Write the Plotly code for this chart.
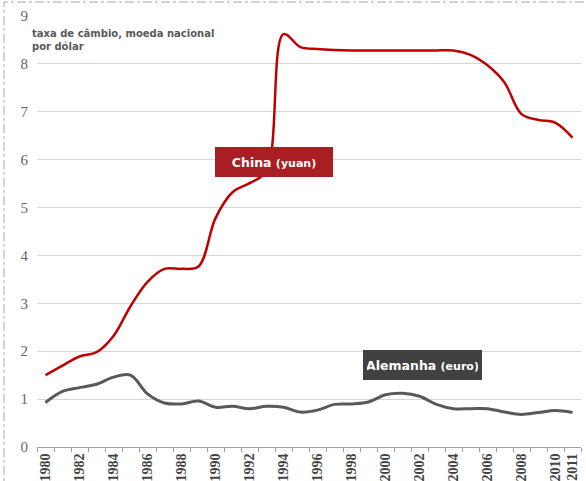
import plotly.graph_objects as go

years = list(range(1980, 2012))
china_yuan = [1.50, 1.70, 1.89, 1.98, 2.32, 2.94, 3.45, 3.72, 3.72, 3.77,
              4.78, 5.32, 5.51, 5.76, 8.62, 8.35, 8.31, 8.29, 8.28, 8.28,
              8.28, 8.28, 8.28, 8.28, 8.28, 8.19, 7.97, 7.61, 6.95, 6.83,
              6.77, 6.46]
germany_euro = [0.93, 1.16, 1.24, 1.31, 1.46, 1.50, 1.11, 0.92, 0.90, 0.96,
                0.83, 0.85, 0.80, 0.85, 0.83, 0.73, 0.77, 0.89, 0.90, 0.94,
                1.09, 1.12, 1.06, 0.89, 0.80, 0.80, 0.80, 0.73, 0.68, 0.72,
                0.76, 0.72]
x_tick_years = [1980, 1982, 1984, 1986, 1988, 1990, 1992, 1994, 1996, 1998,
                2000, 2002, 2004, 2006, 2008, 2010, 2011]
y_ticks = [0, 1, 2, 3, 4, 5, 6, 7, 8, 9]

SERIF = "Liberation Serif, Times New Roman, serif"
SANS = "DejaVu Sans, Verdana, sans-serif"

fig = go.Figure()
fig.add_trace(go.Scatter(x=years, y=germany_euro, mode="lines",
                         line=dict(color="#595959", width=3, shape="spline"),
                         hoverinfo="skip"))
fig.add_trace(go.Scatter(x=years, y=china_yuan, mode="lines",
                         line=dict(color="#C00000", width=2.5, shape="spline"),
                         hoverinfo="skip"))

W, H = 586, 481
L, R, T, B = 37, 5, 16, 34
pw, ph = W - L - R, H - T - B

def px_x(p):
    return (p - L) / pw

def px_y(p):
    return (H - B - p) / ph

fig.update_layout(
    width=W, height=H,
    margin=dict(l=L, r=R, t=T, b=B, autoexpand=False),
    paper_bgcolor="white", plot_bgcolor="white",
    showlegend=False,
    xaxis=dict(
        range=[1979.5, 2011.5],
        tickvals=x_tick_years,
        ticktext=[str(y) for y in x_tick_years],
        tickangle=-90,
        ticks="",
        tickfont=dict(family=SERIF, size=14, color="#444444", weight="bold"),
        showgrid=False, zeroline=False,
        showline=True, linecolor="#a0a0a0", linewidth=1,
        minor=dict(ticks="outside", ticklen=4, tickcolor="#a0a0a0",
                   tick0=1979.5, dtick=1, showgrid=False),
        fixedrange=True,
    ),
    yaxis=dict(
        range=[0, 9],
        tickvals=y_ticks,
        tickfont=dict(family=SERIF, size=15, color="#666666"),
        showgrid=True, gridcolor="#d6d6d6", gridwidth=1,
        zeroline=False, showline=False, ticks="",
        ticklabelstandoff=8,
        fixedrange=True,
    ),
    shapes=[dict(type="rect", xref="paper", yref="paper",
                 x0=px_x(4), x1=px_x(620), y0=px_y(520), y1=px_y(2),
                 line=dict(color="#a8a8a8", width=1, dash="dashdot"),
                 layer="below")],
    annotations=[
        dict(xref="paper", yref="paper", x=px_x(30), y=px_y(26),
             xanchor="left", yanchor="top", align="left", showarrow=False,
             text="<b>taxa de câmbio, moeda nacional<br>por dólar</b>",
             font=dict(family=SANS, size=10, color="#595959")),
        dict(xref="paper", yref="paper", x=px_x(274), y=px_y(162),
             xanchor="center", yanchor="middle", showarrow=False,
             text="<b>China <span style='font-size:11px'>(yuan)</span></b>",
             font=dict(family=SANS, size=12.5, color="white"),
             bgcolor="#A81E23", width=110, height=22, borderpad=4,
             borderwidth=0),
        dict(xref="paper", yref="paper", x=px_x(422.5), y=px_y(365),
             xanchor="center", yanchor="middle", showarrow=False,
             text="<b>Alemanha <span style='font-size:11px'>(euro)</span></b>",
             font=dict(family=SANS, size=12.5, color="white"),
             bgcolor="#414141", width=111, height=22, borderpad=4,
             borderwidth=0),
    ],
)

fig.write_html("out.html",
               config={"displayModeBar": False},
               post_script="document.body.style.margin='0px';document.body.style.padding='0px';")
